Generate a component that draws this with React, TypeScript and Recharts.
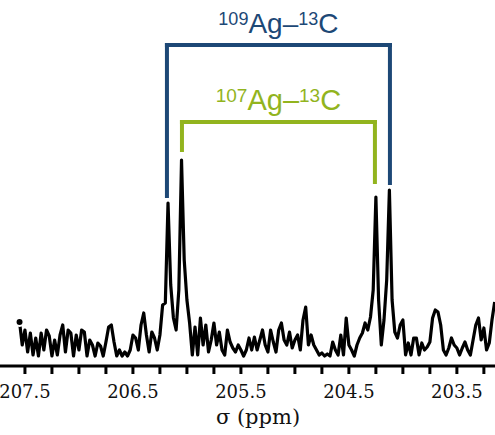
import React from 'react';
import { LineChart, Line, XAxis, YAxis, ReferenceLine } from 'recharts';

// spectrum sampled every 0.025 ppm starting at 207.55 ppm
const PPM_START = 207.55;
const PPM_STEP = 0.025;
const INTENSITY = [
  44, 21, 36, 14, 33, 11, 28, 10, 33, 16,
  36, 30, 10, 26, 11, 31, 41, 14, 36, 33,
  10, 31, 16, 36, 34, 10, 26, 21, 10, 23,
  20, 10, 24, 39, 41, 24, 10, 16, 10, 14,
  10, 16, 31, 28, 16, 41, 53, 31, 14, 34,
  28, 16, 31, 61, 63, 163, 81, 48, 36, 76,
  206, 106, 66, 43, 11, 39, 11, 48, 21, 41,
  14, 26, 43, 21, 34, 16, 11, 36, 24, 18,
  14, 21, 16, 10, 16, 28, 16, 29, 16, 26,
  36, 21, 14, 36, 24, 14, 36, 43, 26, 21,
  34, 18, 26, 31, 16, 46, 59, 21, 31, 21,
  16, 11, 13, 10, 12, 10, 24, 16, 11, 31,
  11, 48, 21, 16, 10, 21, 28, 33, 43, 36,
  49, 76, 169, 66, 21, 46, 86, 176, 66, 34,
  28, 41, 46, 11, 23, 11, 28, 28, 11, 23,
  16, 19, 24, 48, 56, 54, 41, 16, 11, 18,
  28, 21, 18, 11, 18, 24, 16, 11, 26, 41,
  48, 26, 38, 16, 23, 46, 64,
];

const TICKS = [
  203.25, 203.5, 203.75, 204, 204.25, 204.5, 204.75, 205, 205.25,
  205.5, 205.75, 206, 206.25, 206.5, 206.75, 207, 207.25, 207.5,
];
const TICK_LABELS = [203.5, 204.5, 205.5, 206.5, 207.5];

// coupling brackets: outer ppm positions, bar level, leg end levels
const AG109 = { left: 206.185, right: 204.12, top: 321, leftEnd: 170, rightEnd: 183 };
const AG107 = { left: 206.046, right: 204.259, top: 244, leftEnd: 216, rightEnd: 184 };

const BLUE = '#1d4876';
const GREEN = '#92b41e';

const data = INTENSITY.map((v, i) => ({ ppm: +(PPM_START - i * PPM_STEP).toFixed(3), v }));

const Tick = (props: any) => {
  const { x, y, payload } = props;
  if (!TICK_LABELS.includes(payload.value)) return null;
  return (
    <text x={x} y={y + 22} textAnchor="middle" fontFamily="DejaVu Serif" fontSize={18} fill="#111">
      {payload.value.toFixed(1)}
    </text>
  );
};

const bracketLabel = (mass: string, color: string, size: number) => (props: any) => {
  const vb = props.viewBox || {};
  const cx = vb.x + (vb.width || 0) / 2;
  const y = vb.y - 12;
  const sup = Math.round(size * 0.64);
  return (
    <text x={cx} y={y} textAnchor="middle" fontFamily="Liberation Sans" fill={color}>
      <tspan fontSize={sup} dy={-8}>{mass}</tspan>
      <tspan fontSize={size} dy={8}>Ag–</tspan>
      <tspan fontSize={sup} dy={-8}>13</tspan>
      <tspan fontSize={size} dy={8}>C</tspan>
    </text>
  );
};

const Bracket = (b: typeof AG109, color: string, mass: string, size: number) => [
  <ReferenceLine key={mass + 'h'} segment={[{ x: b.left, y: b.top }, { x: b.right, y: b.top }]}
    stroke={color} strokeWidth={4} strokeLinecap="square" ifOverflow="visible"
    label={bracketLabel(mass, color, size)} />,
  <ReferenceLine key={mass + 'l'} segment={[{ x: b.left, y: b.top }, { x: b.left, y: b.leftEnd }]}
    stroke={color} strokeWidth={4} strokeLinecap="square" ifOverflow="visible" />,
  <ReferenceLine key={mass + 'r'} segment={[{ x: b.right, y: b.top }, { x: b.right, y: b.rightEnd }]}
    stroke={color} strokeWidth={4} strokeLinecap="square" ifOverflow="visible" />,
];

export default function App() {
  return (
    <div style={{ position: 'absolute', left: 0, top: 0, width: 495, height: 435, background: '#fff' }}>
      <LineChart width={495} height={435} data={data} margin={{ top: 0, right: 0, bottom: 0, left: 0 }}>
        <XAxis
          dataKey="ppm"
          type="number"
          domain={[203.147, 207.731]}
          reversed
          allowDataOverflow
          ticks={TICKS}
          interval={0}
          height={69}
          tickSize={8}
          tick={<Tick />}
          axisLine={{ stroke: '#000', strokeWidth: 3 }}
          tickLine={{ stroke: '#000', strokeWidth: 3 }}
          label={() => (
            <text x={258} y={424} textAnchor="middle" fontFamily="DejaVu Serif" fontSize={21} fill="#111">
              σ (ppm)
            </text>
          )}
        />
        <YAxis hide domain={[0, 366]} allowDataOverflow />
        {Bracket(AG109, BLUE, '109', 28)}
        {Bracket(AG107, GREEN, '107', 29)}
        <Line dataKey="v" type="linear" stroke="#000" strokeWidth={3.2} dot={false} strokeLinejoin="round" isAnimationActive={false} />
      </LineChart>
    </div>
  );
}
